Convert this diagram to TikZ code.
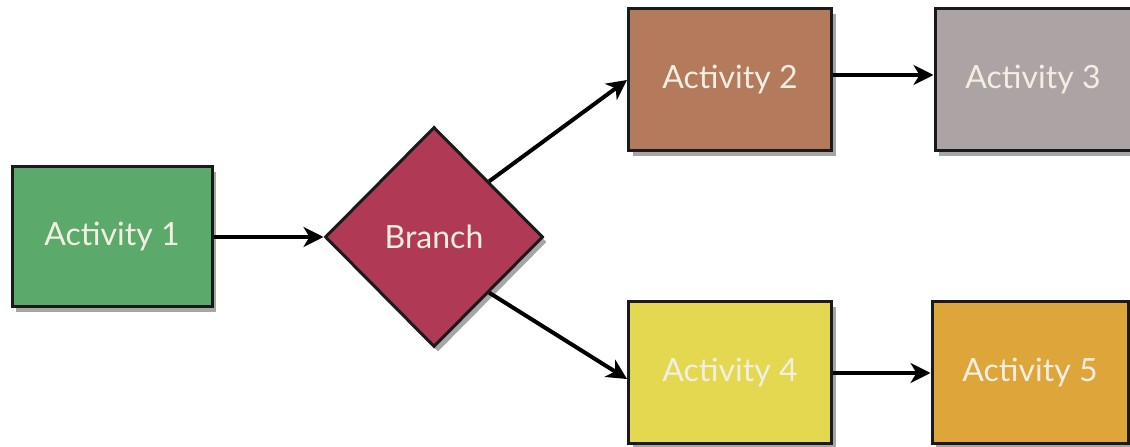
\documentclass[tikz,border=0pt]{standalone}
\usepackage{fontspec}
\setmainfont{Lato}
\usetikzlibrary{shapes.geometric,shadows,arrows.meta}
\definecolor{cgreen}{HTML}{5BAA6C}
\definecolor{cbranch}{HTML}{B03A55}
\definecolor{cact2}{HTML}{B47A5C}
\definecolor{cact3}{HTML}{ACA4A4}
\definecolor{cact4}{HTML}{E3D84F}
\definecolor{cact5}{HTML}{DDA53A}
\definecolor{ctext}{HTML}{F2EFE2}
\definecolor{cline}{HTML}{1A1A1A}
\tikzset{
  actbox/.style={draw=cline, line width=3pt, minimum width=200pt, minimum height=140pt,
    text=ctext, font=\fontsize{32}{36}\selectfont, inner sep=0pt,
    drop shadow={shadow xshift=4pt, shadow yshift=-5pt, opacity=0.35, fill=black}},
  branchbox/.style={diamond, draw=cline, line width=3pt, minimum width=218pt, minimum height=220pt,
    text=ctext, font=\fontsize{32}{36}\selectfont, inner sep=0pt,
    drop shadow={shadow xshift=4pt, shadow yshift=-5pt, opacity=0.35, fill=black}},
  conn/.style={line width=4pt, draw=black, -{Stealth[length=20pt, width=20pt, inset=6pt]}}
}
\begin{document}
\begin{tikzpicture}[x=1pt, y=1pt]
\useasboundingbox (0,0) rectangle (1130,447);
\node[actbox, fill=cgreen] (a1) at (112, 210) {Activity 1};
\node[branchbox, fill=cbranch] (br) at (434, 210) {Branch};
\node[actbox, fill=cact2, minimum width=203pt, minimum height=142pt] (a2) at (730, 367) {Activity 2};
\node[actbox, fill=cact3, minimum width=196pt, minimum height=142pt] (a3) at (1033, 367) {Activity 3};
\node[actbox, fill=cact4, minimum width=203pt, minimum height=142pt] (a4) at (730, 74) {Activity 4};
\node[actbox, fill=cact5, minimum width=196pt, minimum height=142pt] (a5) at (1030, 74) {Activity 5};
\draw[conn] (a1.east) -- (br.west);
\draw[conn] (br.north east) -- (a2.west);
\draw[conn] (br.south east) -- ([yshift=-6pt]a4.west);
\draw[conn] ([yshift=5pt]a2.east) -- ([yshift=5pt]a3.west);
\draw[conn] (a4.east) -- (a5.west);
\end{tikzpicture}
\end{document}
